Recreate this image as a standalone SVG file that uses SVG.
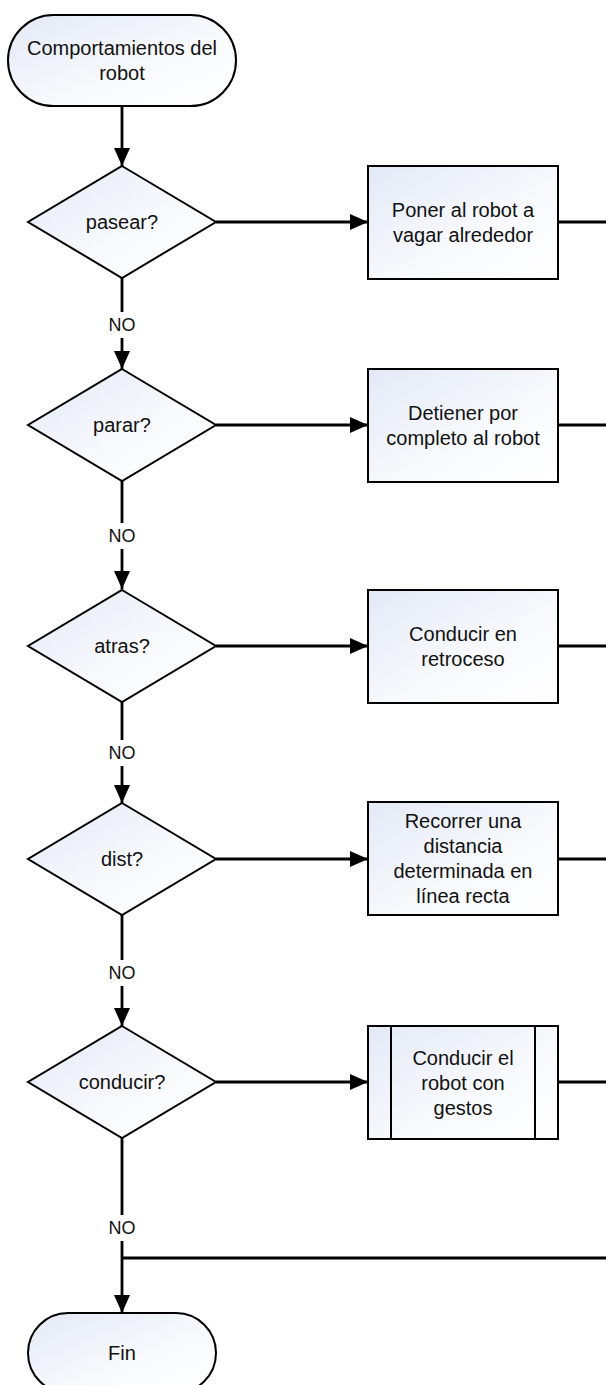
<svg xmlns="http://www.w3.org/2000/svg" width="606" height="1385" viewBox="0 0 606 1385">
  <defs>
    <linearGradient id="fill" x1="0" y1="0" x2="1" y2="1">
      <stop offset="0" stop-color="#e3e9f6"/>
      <stop offset="0.6" stop-color="#f9fafd"/>
      <stop offset="1" stop-color="#ffffff"/>
    </linearGradient>
    <marker id="arrow" markerUnits="userSpaceOnUse" markerWidth="18" markerHeight="16" refX="18" refY="8" orient="auto">
      <path d="M0,0 L18,8 L0,16 Z" fill="#000"/>
    </marker>
  </defs>
  <style>
    .shape { fill: url(#fill); stroke: #000; stroke-width: 2; }
    .line { fill: none; stroke: #000; stroke-width: 2.8; }
    .arr { marker-end: url(#arrow); }
    text { font-family: "Liberation Sans", Arial, sans-serif; font-size: 20px; fill: #111; text-anchor: middle; }
    .lbl { font-size: 18px; }
    .bg { fill: #fff; stroke: none; }
  </style>
  <rect width="606" height="1385" fill="#fff"/>

  <g id="connectors">
    <line class="line arr" x1="122" y1="106" x2="122" y2="166"/>
    <line class="line arr" x1="122" y1="278" x2="122" y2="369"/>
    <line class="line arr" x1="122" y1="481" x2="122" y2="589"/>
    <line class="line arr" x1="122" y1="702" x2="122" y2="803"/>
    <line class="line arr" x1="122" y1="915" x2="122" y2="1026"/>
    <line class="line arr" x1="122" y1="1138" x2="122" y2="1313"/>
    <line class="line" x1="122" y1="1258" x2="610" y2="1258"/>

    <line class="line arr" x1="216" y1="222" x2="368" y2="222"/>
    <line class="line arr" x1="216" y1="425" x2="368" y2="425"/>
    <line class="line arr" x1="216" y1="646" x2="368" y2="646"/>
    <line class="line arr" x1="216" y1="859" x2="368" y2="859"/>
    <line class="line arr" x1="216" y1="1082" x2="368" y2="1082"/>

    <line class="line" x1="558" y1="222" x2="610" y2="222"/>
    <line class="line" x1="558" y1="425" x2="610" y2="425"/>
    <line class="line" x1="558" y1="646" x2="610" y2="646"/>
    <line class="line" x1="558" y1="859" x2="610" y2="859"/>
    <line class="line" x1="558" y1="1082" x2="610" y2="1082"/>

    <g id="labels">
      <rect class="bg" x="106" y="312" width="32" height="26"/>
      <text class="lbl" x="122" y="331">NO</text>
      <rect class="bg" x="106" y="523" width="32" height="26"/>
      <text class="lbl" x="122" y="542">NO</text>
      <rect class="bg" x="106" y="740" width="32" height="26"/>
      <text class="lbl" x="122" y="759">NO</text>
      <rect class="bg" x="106" y="960" width="32" height="26"/>
      <text class="lbl" x="122" y="979">NO</text>
      <rect class="bg" x="106" y="1215" width="32" height="26"/>
      <text class="lbl" x="122" y="1234">NO</text>
    </g>
  </g>

  <g id="start">
    <rect class="shape" x="8" y="15" width="228" height="91" rx="45.5" ry="45.5"/>
    <text x="122" y="55">Comportamientos del</text>
    <text x="122" y="80">robot</text>
  </g>

  <g id="d-pasear">
    <polygon class="shape" points="122,166 216,222 122,278 28,222"/>
    <text x="122" y="229">pasear?</text>
  </g>
  <g id="p-pasear">
    <rect class="shape" x="368" y="166" width="190" height="113"/>
    <text x="463" y="216.5">Poner al robot a</text>
    <text x="463" y="241.5">vagar alrededor</text>
  </g>

  <g id="d-parar">
    <polygon class="shape" points="122,369 216,425 122,481 28,425"/>
    <text x="122" y="432">parar?</text>
  </g>
  <g id="p-parar">
    <rect class="shape" x="368" y="369" width="190" height="113"/>
    <text x="463" y="420">Detiener por</text>
    <text x="463" y="445">completo al robot</text>
  </g>

  <g id="d-atras">
    <polygon class="shape" points="122,590 216,646 122,702 28,646"/>
    <text x="122" y="653">atras?</text>
  </g>
  <g id="p-atras">
    <rect class="shape" x="368" y="590" width="190" height="113"/>
    <text x="463" y="640.5">Conducir en</text>
    <text x="463" y="665.5">retroceso</text>
  </g>

  <g id="d-dist">
    <polygon class="shape" points="122,803 216,859 122,915 28,859"/>
    <text x="122" y="866">dist?</text>
  </g>
  <g id="p-dist">
    <rect class="shape" x="368" y="802" width="190" height="113"/>
    <text x="463" y="828">Recorrer una</text>
    <text x="463" y="853">distancia</text>
    <text x="463" y="878">determinada en</text>
    <text x="463" y="903">línea recta</text>
  </g>

  <g id="d-conducir">
    <polygon class="shape" points="122,1026 216,1082 122,1138 28,1082"/>
    <text x="122" y="1089">conducir?</text>
  </g>
  <g id="p-conducir">
    <rect class="shape" x="368" y="1026" width="190" height="113"/>
    <line x1="391" y1="1026" x2="391" y2="1139" stroke="#000" stroke-width="2"/>
    <line x1="535" y1="1026" x2="535" y2="1139" stroke="#000" stroke-width="2"/>
    <text x="463" y="1064.5">Conducir el</text>
    <text x="463" y="1089.5">robot con</text>
    <text x="463" y="1114.5">gestos</text>
  </g>

  <g id="end">
    <rect class="shape" x="28" y="1313" width="188" height="80" rx="40" ry="40"/>
    <text x="122" y="1360">Fin</text>
  </g>
</svg>
